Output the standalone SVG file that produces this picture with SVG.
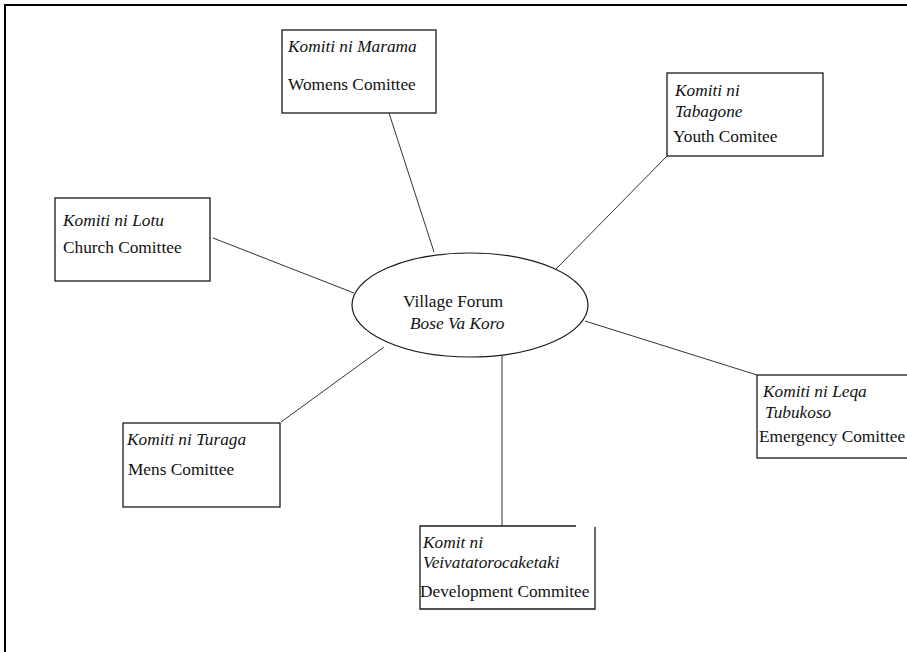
<svg xmlns="http://www.w3.org/2000/svg" width="907" height="652" viewBox="0 0 907 652">
  <style>
    .box { fill: #ffffff; stroke: #1a1a1a; stroke-width: 1.3; }
    .link { stroke: #333333; stroke-width: 1; fill: none; }
    text { font-family: "Liberation Serif", "Times New Roman", serif; font-size: 17.3px; fill: #111111; }
    .it { font-style: italic; }
  </style>
  <rect width="907" height="652" fill="#ffffff"/>
  <!-- page frame -->
  <path d="M5,652 V5 H907" fill="none" stroke="#000000" stroke-width="2"/>

  <g id="connectors">
    <line class="link" x1="389" y1="113" x2="434" y2="252"/>
    <line class="link" x1="667" y1="156" x2="556" y2="269"/>
    <line class="link" x1="213" y1="238" x2="354" y2="293"/>
    <line class="link" x1="281" y1="422" x2="384" y2="347"/>
    <line class="link" x1="585" y1="321" x2="757" y2="375"/>
    <line class="link" x1="502" y1="338" x2="502" y2="526"/>
  </g>

  <g id="forum">
    <ellipse cx="470" cy="305" rx="118" ry="52" fill="#ffffff" stroke="#1a1a1a" stroke-width="1.2"/>
    <text x="403" y="307">Village Forum</text>
    <text class="it" x="410" y="329">Bose Va Koro</text>
  </g>

  <g id="womens">
    <rect class="box" x="282" y="30" width="154" height="83"/>
    <text class="it" x="288" y="52">Komiti ni Marama</text>
    <text x="288" y="90">Womens Comittee</text>
  </g>

  <g id="youth">
    <rect class="box" x="667" y="73" width="156" height="83"/>
    <text class="it" x="675" y="96">Komiti ni</text>
    <text class="it" x="675" y="117">Tabagone</text>
    <text x="673" y="142">Youth Comitee</text>
  </g>

  <g id="church">
    <rect class="box" x="55" y="198" width="155" height="83"/>
    <text class="it" x="63" y="226">Komiti ni Lotu</text>
    <text x="63" y="253">Church Comittee</text>
  </g>

  <g id="mens">
    <rect class="box" x="123" y="423" width="157" height="84"/>
    <text class="it" x="127" y="445">Komiti ni Turaga</text>
    <text x="128" y="475">Mens Comittee</text>
  </g>

  <g id="emergency">
    <rect class="box" x="757" y="375" width="160" height="83"/>
    <text class="it" x="763" y="397">Komiti ni Leqa</text>
    <text class="it" x="765" y="418">Tubukoso</text>
    <text x="759" y="442">Emergency Comittee</text>
  </g>

  <g id="development">
    <path class="box" d="M576,526 H420 V609 H595 V527"/>
    <text class="it" x="423" y="548">Komit ni</text>
    <text class="it" x="423" y="568">Veivatatorocaketaki</text>
    <text x="420" y="597">Development Commitee</text>
  </g>
</svg>
